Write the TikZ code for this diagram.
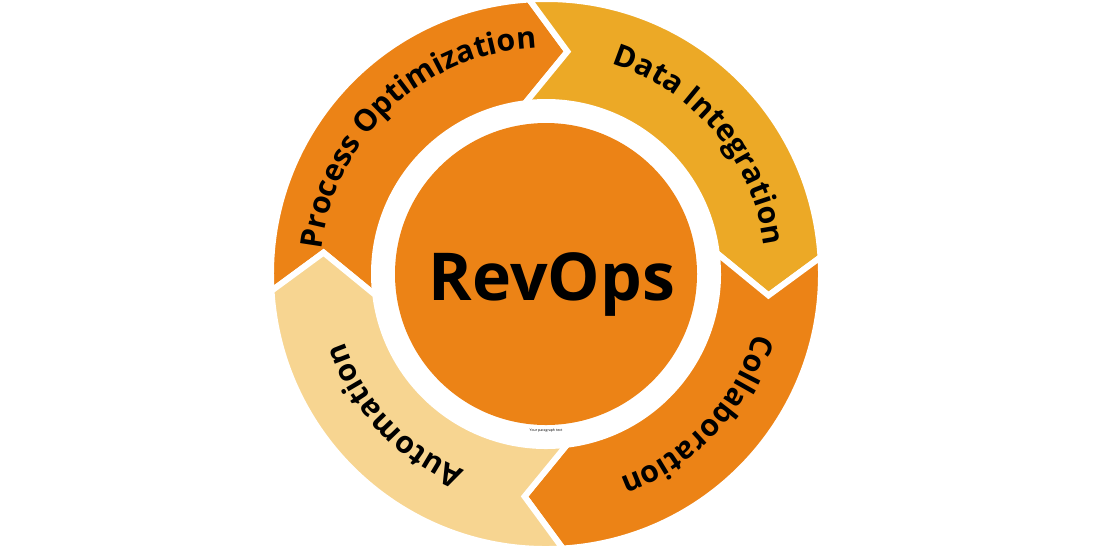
\documentclass[tikz,border=0pt]{standalone}
\usepackage{fontspec}
\setmainfont{Open Sans}
\usepackage{xcolor}
\usepackage{tikz}
\usetikzlibrary{positioning,decorations.text}

\definecolor{revorange}{HTML}{EC8316}
\definecolor{revgold}{HTML}{ECA926}
\definecolor{revlight}{HTML}{F7D591}
\newcommand{\labelfont}{\bfseries\fontsize{8.6}{8.6}\selectfont}

\begin{document}
\begin{tikzpicture}[
    seg/.style={draw=white, line width=1.7pt},
    hub/.style={circle, fill=revorange, minimum size=3.02cm, inner sep=0pt},
    hubtext/.style={font=\bfseries\fontsize{18.8}{18.8}\selectfont, inner sep=0pt},
    ringlabel/.style={decorate, decoration={text along path, text align=center, text={|\labelfont|#1}}},
    note/.style={font=\fontsize{1}{1}\selectfont, inner sep=0pt}
]
\useasboundingbox (0,0) rectangle (11,5.5);

\begin{scope}[shift={(5.46,2.76)}]
% Ring segments (clockwise arrows)
\foreach \a/\col in {185/revorange, 95/revgold, 5/revorange, 275/revlight}
    \filldraw[seg, fill=\col] (\a-1.5:2.75) arc[start angle=\a-1.5, end angle=\a-91.5, radius=2.75]
        -- (\a-100.5:2.235) -- (\a-88:1.72) arc[start angle=\a-88, end angle=\a+2, radius=1.72]
        -- (\a-10.5:2.235) -- cycle;

% Centre
\node[hub] (revops) at (0,0) {};
\node[hubtext] (title) at (0.06,-0.1) {RevOps};
\node[note, below=0.02cm of revops] (note) {Your paragraph text};

% Ring labels
\path[ringlabel=Process Optimization] (193:2.26) arc[start angle=193, end angle=73, radius=2.26];
\path[ringlabel=Data Integration] (100:2.2) arc[start angle=100, end angle=-20, radius=2.2];
\path[ringlabel=Collaboration] (17:2.17) arc[start angle=17, end angle=-103, radius=2.17];
\path[ringlabel=Automation] (283:2.13) arc[start angle=283, end angle=163, radius=2.13];
\end{scope}

\end{tikzpicture}
\end{document}
